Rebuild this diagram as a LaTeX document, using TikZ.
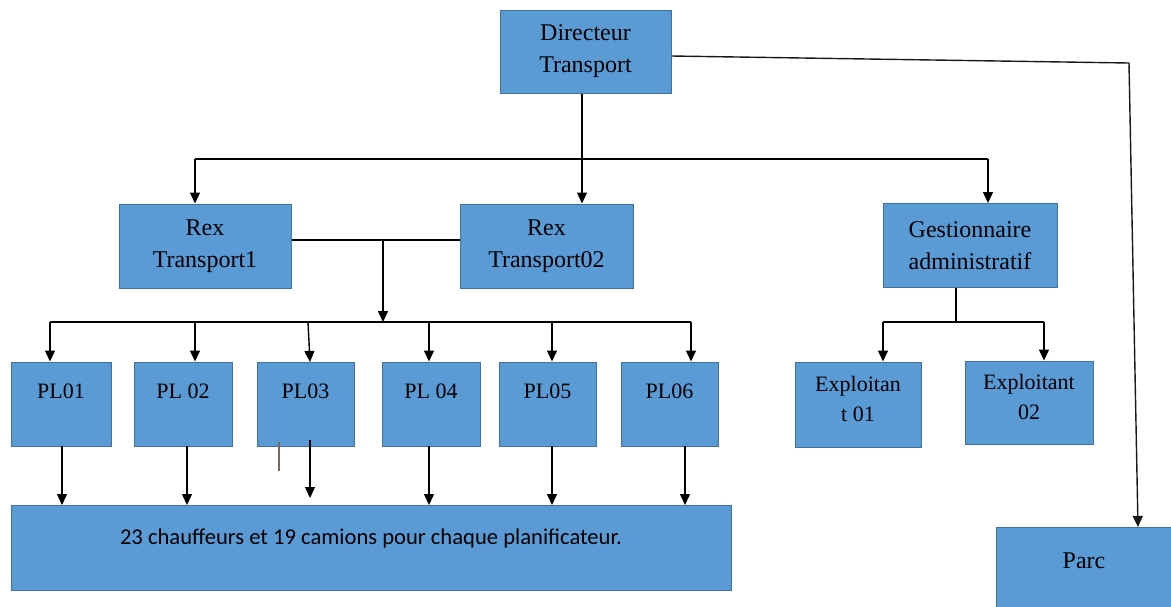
\documentclass[tikz,border=0pt]{standalone}
\usepackage{fontspec}
\setmainfont{Liberation Serif}
\newfontfamily\calfont{Carlito}
\usetikzlibrary{arrows.meta}
\definecolor{boxfill}{HTML}{5B9BD5}
\definecolor{boxline}{HTML}{41719C}
\definecolor{tick}{HTML}{7A6A5A}
\tikzset{
  box/.style={draw=boxline, line width=1pt, fill=boxfill, inner sep=0pt,
    align=center, font=\fontsize{24}{32}\selectfont},
  lbl/.style={inner sep=0pt, align=center},
  link/.style={line width=1.4pt, draw=black},
  arr/.style={link, -{Triangle[length=11pt,width=10pt]}}
}
\begin{document}
\begin{tikzpicture}[x=1pt,y=-1pt]
\useasboundingbox (0,0) rectangle (1171,606);

% boxes
\node[box, minimum width=171pt, minimum height=83pt] (dir) at (585.5,51.5) {Directeur\\Transport};
\node[box, minimum width=172pt, minimum height=84pt] (rex1) at (205,246) {Rex\\Transport1};
\node[box, minimum width=173pt, minimum height=84pt] (rex2) at (546.5,246) {Rex\\Transport02};
\node[box, minimum width=174pt, minimum height=84pt] (gest) at (970,245.5) {Gestionnaire\\administratif};

\node[box, minimum width=100pt, minimum height=84pt] (pl1) at (61,404) {};
\node[box, minimum width=98pt, minimum height=84pt] (pl2) at (183,404) {};
\node[box, minimum width=97pt, minimum height=84pt] (pl3) at (305.5,404) {};
\node[box, minimum width=98pt, minimum height=84pt] (pl4) at (431,404) {};
\node[box, minimum width=97pt, minimum height=84pt] (pl5) at (547.5,404) {};
\node[box, minimum width=97pt, minimum height=84pt] (pl6) at (669.5,404) {};

\node[box, minimum width=126pt, minimum height=85pt] (exp1) at (858,404.5) {};
\node[box, minimum width=128pt, minimum height=83pt] (exp2) at (1029,402.5) {};

\node[box, minimum width=720pt, minimum height=85pt] (all) at (371,547.5) {};
\node[box, minimum width=189pt, minimum height=93pt] (parc) at (1090.5,573.5) {};

% box texts set near the top edge
\foreach \b/\t in {pl1/PL01, pl2/PL 02, pl3/PL03, pl4/PL 04, pl5/PL05, pl6/PL06}
  \node[lbl, anchor=base, font=\fontsize{22}{30}\selectfont] (\b t) at ([yshift=-37pt]\b.north) {\t};
\node[lbl, anchor=north, font=\fontsize{22}{30}\selectfont] (exp1t) at ([yshift=-15pt]exp1.north) {Exploitan\\t 01};
\node[lbl, anchor=north, font=\fontsize{22}{30}\selectfont] (exp2t) at ([yshift=-14pt]exp2.north) {Exploitant\\02};
\node[lbl, anchor=base, font=\calfont\fontsize{22.6}{26}\selectfont] (allt) at ([yshift=-40pt]all.north) {23 chauffeurs et 19 camions pour chaque planificateur.};
\node[lbl, anchor=base, font=\fontsize{24}{32}\selectfont] (parct) at (1084,568) {Parc};

% junction points
\coordinate (j0) at (582,159);
\coordinate (b1) at (195,159);
\coordinate (b3) at (988,159);
\coordinate (j1) at (383,240);
\coordinate (j2) at (383,322);
\coordinate (p1) at (50,322);
\coordinate (p2) at (195,322);
\coordinate (p3) at (308,322);
\coordinate (p4) at (429,322);
\coordinate (p5) at (552,322);
\coordinate (p6) at (691,322);
\coordinate (g0) at (956,322);
\coordinate (g1) at (883,322);
\coordinate (g2) at (1044,322);
\coordinate (pc) at (1129,63);
\coordinate (pe) at (1138,527);

% director to the three services
\draw[link] (dir.south -| j0) -- (j0);
\draw[link] (b1) -- (b3);
\draw[arr] (j0) -- (j0 |- rex2.north);
\draw[arr] (b1) -- (b1 |- rex1.north);
\draw[arr] (b3) -- (b3 |- gest.north);

% director to Parc
\draw[arr, draw=black!90] ([yshift=-4.5pt]dir.east) -- (pc) -- (pe);

% Rex to the planners
\draw[link] (rex1.east |- j1) -- (rex2.west |- j1);
\draw[arr] (j1) -- (j2);
\draw[link] (p1) -- (p6);
\draw[arr] (p1) -- (p1 |- pl1.north);
\draw[arr] (p2) -- (p2 |- pl2.north);
\draw[arr] (p3) -- (310,362);
\draw[arr] (p4) -- (p4 |- pl4.north);
\draw[arr] (p5) -- (p5 |- pl5.north);
\draw[arr] (p6) -- (p6 |- pl6.north);

% planners to drivers and trucks
\draw[arr] (62,446) -- (62,505);
\draw[arr] (187,446) -- (187,505);
\draw[arr] (310,440) -- (310,498);
\draw[arr] (429,446) -- (429,505);
\draw[arr] (552,446) -- (552,505);
\draw[arr] (685,446) -- (685,505);
\draw[line width=1.2pt, draw=tick] (279,442) -- (279,471);

% administration to operators
\draw[link] (gest.south -| g0) -- (g0);
\draw[link] (g1) -- (g2);
\draw[arr] (g1) -- (g1 |- exp1.north);
\draw[arr] (g2) -- (g2 |- exp2.north);
\end{tikzpicture}
\end{document}
